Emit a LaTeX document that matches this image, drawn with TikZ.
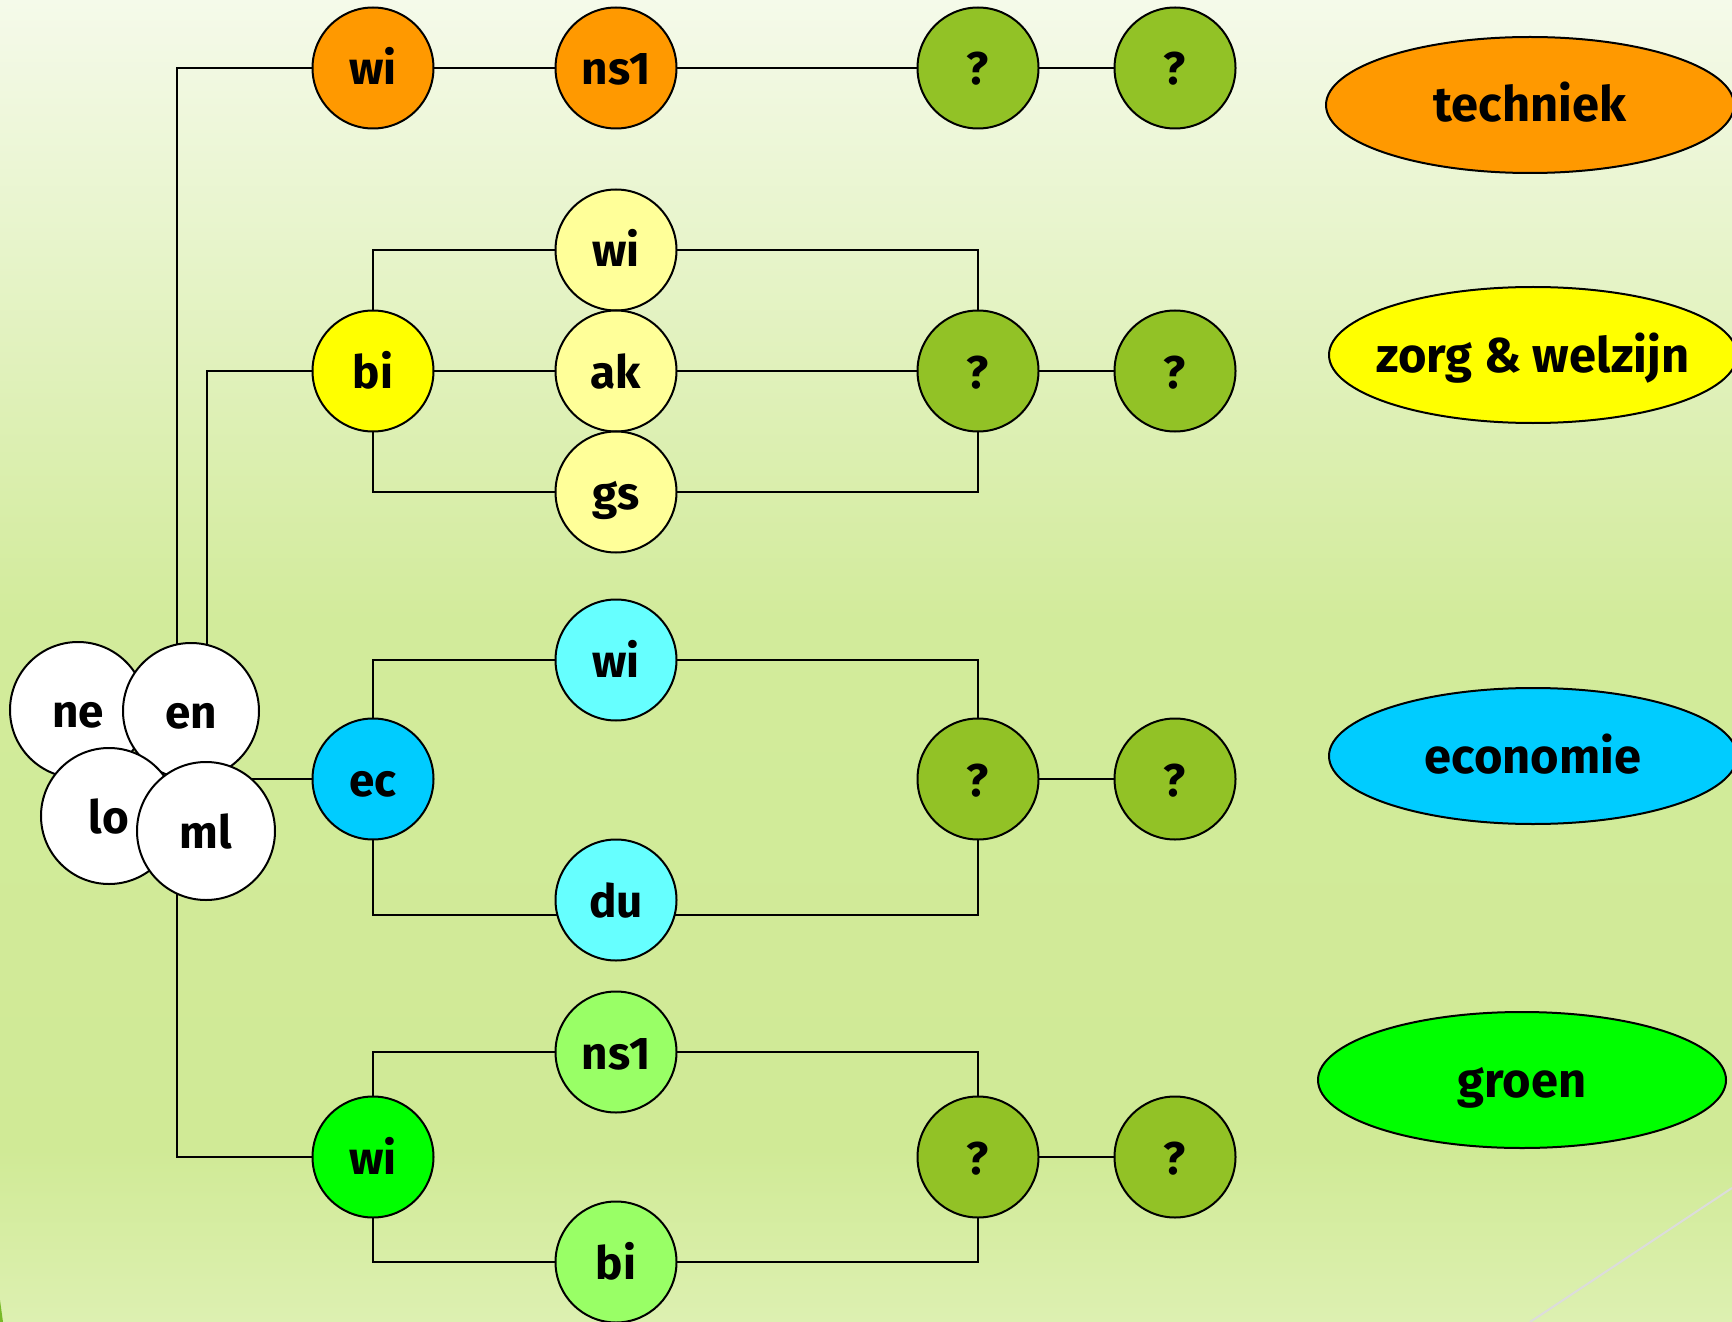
\documentclass[tikz,border=0pt]{standalone}
\usepackage{fontspec}
\setmainfont{Fira Sans}
\usetikzlibrary{shapes.geometric,backgrounds}
\definecolor{bgTop}{RGB}{245,250,234}
\definecolor{bgMid}{RGB}{210,235,155}
\definecolor{bgLow}{RGB}{208,234,150}
\definecolor{bgBot}{RGB}{221,240,177}
\definecolor{cOrange}{RGB}{255,153,0}
\definecolor{cYellow}{RGB}{255,255,0}
\definecolor{cLYellow}{RGB}{255,255,153}
\definecolor{cBlue}{RGB}{0,204,255}
\definecolor{cCyan}{RGB}{102,255,255}
\definecolor{cGreen}{RGB}{0,255,0}
\definecolor{cLGreen}{RGB}{153,255,102}
\definecolor{cQ}{RGB}{146,194,38}
\definecolor{cGrey}{RGB}{220,220,220}
\definecolor{cSliver}{RGB}{120,185,40}
\pgfdeclarelayer{bgfill}
\pgfsetlayers{bgfill,background,main}
\begin{document}
\begin{tikzpicture}[x=1bp,y=-1bp,
  circ/.style={circle,draw=black,line width=2bp,minimum size=121bp,inner sep=0pt,
    text height=40bp,text depth=6bp,font=\fontsize{46}{50}\selectfont\bfseries},
  wcirc/.style={circ,fill=white,minimum size=136bp},
  ell/.style={ellipse,draw=black,line width=2bp,minimum width=408bp,minimum height=136bp,
    inner sep=0pt,text height=40bp,text depth=6bp,font=\fontsize{49}{54}\selectfont\bfseries},
  conn/.style={draw=black,line width=2bp}]
\useasboundingbox (0,0) rectangle (1732,1322);
\clip (0,0) rectangle (1732,1322);
% white cluster
\node[wcirc] (ne) at (78,710) {ne};
\node[wcirc] (en) at (191,711) {en};
\node[wcirc] (lo) at (109,816) {lo};
\node[wcirc,minimum size=138bp] (ml) at (206,831) {ml};
% techniek row
\node[circ,fill=cOrange] (wiT) at (373,68) {wi};
\node[circ,fill=cOrange] (nsT) at (616,68) {ns1};
\node[circ,fill=cQ] (qT) at (978,68) {?};
\node[circ,fill=cQ] (qT2) at (1175,68) {?};
% zorg row
\node[circ,fill=cYellow] (biZ) at (373,371) {bi};
\node[circ,fill=cLYellow] (wiZ) at (616,250) {wi};
\node[circ,fill=cLYellow] (akZ) at (616,371) {ak};
\node[circ,fill=cLYellow] (gsZ) at (616,492) {gs};
\node[circ,fill=cQ] (qZ) at (978,371) {?};
\node[circ,fill=cQ] (qZ2) at (1175,371) {?};
% economie row
\node[circ,fill=cBlue] (ecE) at (373,779) {ec};
\node[circ,fill=cCyan] (wiE) at (616,660) {wi};
\node[circ,fill=cCyan] (duE) at (616,900) {du};
\node[circ,fill=cQ] (qE) at (978,779) {?};
\node[circ,fill=cQ] (qE2) at (1175,779) {?};
% groen row
\node[circ,fill=cGreen] (wiG) at (373,1157) {wi};
\node[circ,fill=cLGreen] (nsG) at (616,1052) {ns1};
\node[circ,fill=cLGreen] (biG) at (616,1262) {bi};
\node[circ,fill=cQ] (qG) at (978,1157) {?};
\node[circ,fill=cQ] (qG2) at (1175,1157) {?};
% ellipses
\node[ell,fill=cOrange] (techniek) at (1530,105) {\makebox[0pt]{techniek}};
\node[ell,fill=cYellow] (zorg) at (1533,355) {\makebox[0pt]{zorg \& welzijn}};
\node[ell,fill=cBlue] (economie) at (1533,756) {\makebox[0pt]{economie}};
\node[ell,fill=cGreen] (groen) at (1522,1080) {\makebox[0pt]{groen}};
% background
\begin{pgfonlayer}{bgfill}
  \shade[top color=bgTop,bottom color=bgMid] (0,0) rectangle (1732,620);
  \shade[top color=bgMid,bottom color=bgLow] (0,619) rectangle (1732,1150);
  \shade[top color=bgLow,bottom color=bgBot] (0,1149) rectangle (1732,1322);
  \draw[cGrey,line width=2bp] (1732,1188) -- (1530,1322);
  \fill[cSliver] (0,1300) -- (3,1322) -- (0,1322) -- cycle;
\end{pgfonlayer}
% connectors
\begin{pgfonlayer}{background}
  \draw[conn] ([xshift=-14bp]en.center) |- (wiT.center);
  \draw[conn] (wiT.center) -- (nsT.center) -- (qT.center) -- (qT2.center);
  \draw[conn] ([xshift=16bp]en.center) |- (biZ.center);
  \draw[conn] (biZ.center) |- (wiZ.center);
  \draw[conn] (biZ.center) -- (akZ.center);
  \draw[conn] (biZ.center) |- (gsZ.center);
  \draw[conn] (wiZ.center) -| (qZ.center);
  \draw[conn] (akZ.center) -- (qZ.center);
  \draw[conn] (gsZ.center) -| (qZ.center);
  \draw[conn] (qZ.center) -- (qZ2.center);
  \draw[conn] (ecE.center -| ml.center) -- (ecE.center);
  \draw[conn] (ecE.center) |- (wiE.center);
  \draw[conn] (ecE.center) |- ([yshift=-15bp]duE.center);
  \draw[conn] (wiE.center) -| (qE.center);
  \draw[conn] ([yshift=-15bp]duE.center) -| (qE.center);
  \draw[conn] (qE.center) -- (qE2.center);
  \draw[conn] ([xshift=-29bp]ml.center) |- (wiG.center);
  \draw[conn] (wiG.center) |- (nsG.center);
  \draw[conn] (wiG.center) |- (biG.center);
  \draw[conn] (nsG.center) -| (qG.center);
  \draw[conn] (biG.center) -| (qG.center);
  \draw[conn] (qG.center) -- (qG2.center);
\end{pgfonlayer}
\end{tikzpicture}
\end{document}
